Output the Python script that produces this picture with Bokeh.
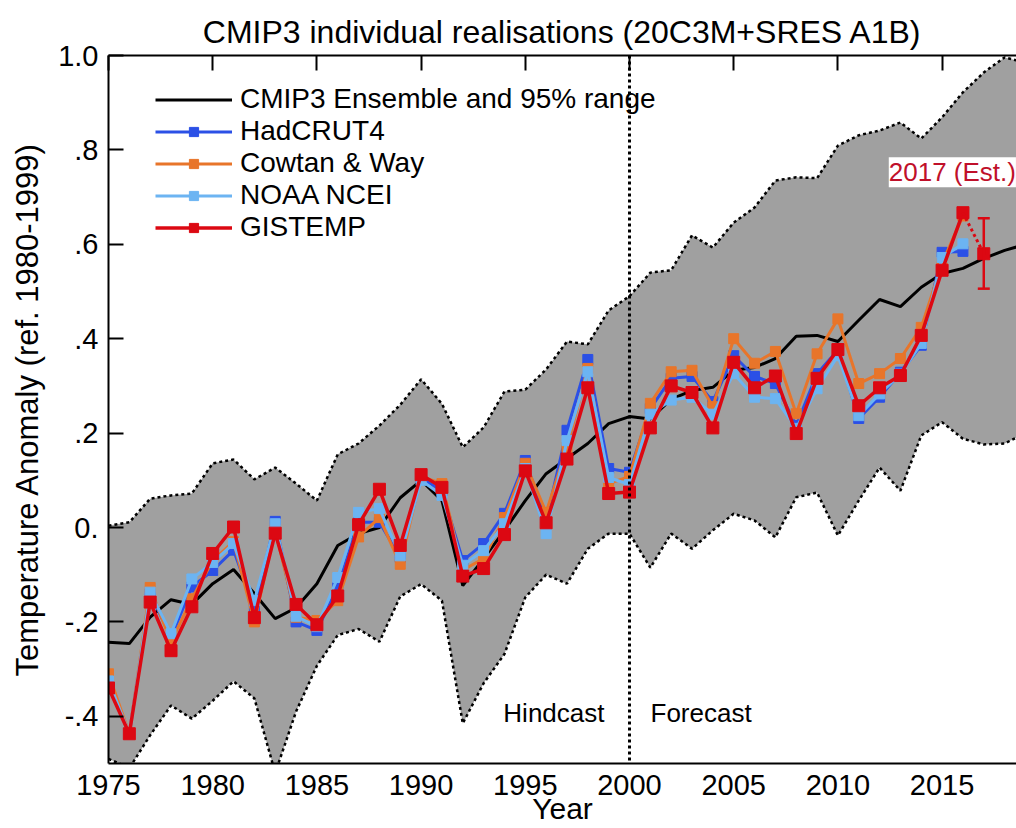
from bokeh.plotting import figure
from bokeh.models import (Range1d, LinearAxis, FixedTicker, CustomJSTickFormatter, Legend,
                          LegendItem, Label, Span, Whisker, ColumnDataSource, TeeHead)
from bokeh.embed import file_html
from bokeh.resources import INLINE

# ---------------- data ----------------
years_obs = list(range(1975, 2017))

hadcrut4 = [-0.330, -0.437, -0.140, -0.233, -0.126, -0.091, -0.048, -0.170, 0.013, -0.200,
            -0.218, -0.127, 0.011, 0.011, -0.063, 0.105, 0.078, -0.070, -0.034, 0.030,
            0.142, 0.015, 0.206, 0.356, 0.125, 0.117, 0.252, 0.316, 0.320, 0.267,
            0.364, 0.320, 0.305, 0.216, 0.326, 0.376, 0.231, 0.276, 0.329, 0.386,
            0.583, 0.585]

cowtan_way = [-0.310, -0.437, -0.127, -0.243, -0.151, -0.070, -0.030, -0.200, -0.005, -0.190,
              -0.197, -0.155, -0.020, 0.021, -0.078, 0.108, 0.093, -0.090, -0.066, 0.021,
              0.136, 0.032, 0.170, 0.337, 0.093, 0.108, 0.263, 0.330, 0.333, 0.256,
              0.400, 0.348, 0.373, 0.241, 0.368, 0.442, 0.305, 0.326, 0.358, 0.424,
              0.560, 0.660]

noaa_ncei = [-0.325, -0.437, -0.137, -0.225, -0.109, -0.074, -0.034, -0.155, 0.008, -0.188,
             -0.210, -0.106, 0.032, 0.040, -0.060, 0.100, 0.068, -0.080, -0.049, 0.008,
             0.125, -0.013, 0.184, 0.330, 0.106, 0.091, 0.240, 0.270, 0.276, 0.240,
             0.326, 0.276, 0.273, 0.210, 0.294, 0.364, 0.237, 0.283, 0.325, 0.390,
             0.572, 0.601]

gistemp = [-0.340, -0.437, -0.158, -0.261, -0.168, -0.055, 0.001, -0.191, -0.012, -0.163,
           -0.206, -0.145, 0.006, 0.081, -0.038, 0.112, 0.085, -0.103, -0.087, -0.015,
           0.120, 0.010, 0.145, 0.296, 0.072, 0.075, 0.211, 0.300, 0.286, 0.211,
           0.350, 0.296, 0.321, 0.199, 0.316, 0.377, 0.258, 0.296, 0.322, 0.407,
           0.545, 0.667]

est_year = 2017
est_value = 0.580
est_low = 0.506
est_high = 0.655

years_model = list(range(1975, 2020))

ens_mean = [-0.243, -0.246, -0.190, -0.153, -0.163, -0.119, -0.089, -0.140, -0.193, -0.170,
            -0.119, -0.038, -0.013, 0.000, 0.063, 0.100, 0.057, -0.123, -0.066, -0.006,
            0.057, 0.114, 0.146, 0.178, 0.220, 0.235, 0.230, 0.272, 0.290, 0.297,
            0.333, 0.339, 0.358, 0.405, 0.407, 0.394, 0.439, 0.483, 0.468, 0.509,
            0.538, 0.549, 0.570, 0.587, 0.600]

ens_upper = [0.004, 0.011, 0.061, 0.068, 0.072, 0.136, 0.144, 0.102, 0.127, 0.093,
             0.057, 0.155, 0.178, 0.216, 0.260, 0.314, 0.262, 0.170, 0.212, 0.288,
             0.292, 0.335, 0.394, 0.388, 0.460, 0.490, 0.540, 0.545, 0.619, 0.593,
             0.646, 0.678, 0.735, 0.742, 0.740, 0.809, 0.831, 0.841, 0.858, 0.824,
             0.869, 0.922, 0.964, 0.996, 0.985]

ens_lower = [-0.490, -0.510, -0.440, -0.377, -0.405, -0.367, -0.326, -0.362, -0.520, -0.390,
             -0.293, -0.228, -0.215, -0.242, -0.146, -0.120, -0.155, -0.415, -0.330, -0.268,
             -0.148, -0.100, -0.119, -0.045, -0.013, -0.013, -0.085, -0.013, -0.045, -0.006,
             0.029, 0.015, -0.021, 0.064, 0.074, -0.017, 0.057, 0.127, 0.078, 0.195,
             0.223, 0.188, 0.176, 0.178, 0.200]

divider_year = 2000
x_ticks = [1975, 1980, 1985, 1990, 1995, 2000, 2005, 2010, 2015]
y_ticks = [-0.4, -0.2, 0.0, 0.2, 0.4, 0.6, 0.8, 1.0]

title_text = "CMIP3 individual realisations (20C3M+SRES A1B)"
y_label = "Temperature Anomaly (ref. 1980-1999)"
x_label = "Year"

# ---------------- styling ----------------
FONT = "Liberation Sans"
W, H = 1016, 828
LEFT, TOP, BOTTOM = 108, 55, 65
PX_PER_YEAR = 20.84
x_start = 1975
x_end = x_start + (W - LEFT) / PX_PER_YEAR
y_start, y_end = -0.5, 1.0

BAND = "#a0a0a0"
C_HAD = "#2b50e6"
C_CW = "#e8752a"
C_NOAA = "#6cb4f2"
C_GIS = "#dc0812"
C_EST = "#c0102a"

p = figure(width=W, height=H, x_range=Range1d(x_start, x_end), y_range=Range1d(y_start, y_end),
           output_backend="svg", toolbar_location=None,
           min_border_left=LEFT, min_border_right=0, min_border_top=TOP, min_border_bottom=BOTTOM)
p.background_fill_color = "white"
p.border_fill_color = "white"
p.outline_line_color = None
p.grid.visible = False

p.title.text = title_text
p.title.align = "center"
p.title.text_font = FONT
p.title.text_font_size = "32px"
p.title.text_font_style = "normal"
p.title.text_color = "black"
p.title.standoff = 11

# bottom axis
xa = p.xaxis[0]
xa.ticker = FixedTicker(ticks=x_ticks)
xa.major_tick_line_color = None
xa.minor_tick_line_color = None
xa.axis_line_width = 2
xa.axis_line_color = "black"
xa.major_label_text_font = FONT
xa.major_label_text_font_size = "29px"
xa.major_label_text_color = "black"
xa.major_label_standoff = 5
xa.axis_label = x_label
xa.axis_label_text_font = FONT
xa.axis_label_text_font_size = "30px"
xa.axis_label_text_font_style = "normal"
xa.axis_label_text_color = "black"
xa.axis_label_standoff = -6

# left axis
ya = p.yaxis[0]
ya.ticker = FixedTicker(ticks=y_ticks)
ya.formatter = CustomJSTickFormatter(code="""
const v = Math.round(tick * 10) / 10;
if (v === 0) { return "0."; }
if (v === 1) { return "1.0"; }
return v.toFixed(1).replace("0.", ".");
""")
ya.major_tick_in = 15
ya.major_tick_out = 0
ya.major_tick_line_width = 2
ya.minor_tick_line_color = None
ya.axis_line_width = 2
ya.axis_line_color = "black"
ya.major_label_text_font = FONT
ya.major_label_text_font_size = "29px"
ya.major_label_text_color = "black"
ya.major_label_standoff = 10
ya.axis_label = y_label
ya.axis_label_text_font = FONT
ya.axis_label_text_font_size = "31px"
ya.axis_label_text_font_style = "normal"
ya.axis_label_text_color = "black"
ya.axis_label_standoff = 10

# top axis (ticks only, no labels)
top = LinearAxis(ticker=FixedTicker(ticks=x_ticks),
                 formatter=CustomJSTickFormatter(code="return '';"))
top.major_tick_in = 15
top.major_tick_out = 0
top.major_tick_line_width = 2
top.minor_tick_line_color = None
top.axis_line_width = 2
top.axis_line_color = "black"
top.major_label_standoff = 0
top.major_label_text_font_size = "4px"
p.add_layout(top, "above")

# ---------------- glyphs ----------------
p.varea(x=years_model, y1=ens_lower, y2=ens_upper, fill_color=BAND, fill_alpha=1.0)
p.line(years_model, ens_upper, line_color="black", line_width=2.5, line_dash="3 3")
p.line(years_model, ens_lower, line_color="black", line_width=2.5, line_dash="3 3")
r_ens = p.line(years_model, ens_mean, line_color="black", line_width=3)

p.add_layout(Span(location=divider_year, dimension="height", line_color="black",
                  line_width=3, line_dash="3 3"))

series = [
    ("HadCRUT4", hadcrut4, C_HAD, 3, 10),
    ("Cowtan & Way", cowtan_way, C_CW, 3, 10),
    ("NOAA NCEI", noaa_ncei, C_NOAA, 3, 10),
    ("GISTEMP", gistemp, C_GIS, 3.5, 12),
]
items = [LegendItem(label="CMIP3 Ensemble and 95% range", renderers=[r_ens])]
for name, vals, col, lw, ms in series:
    rl = p.line(years_obs, vals, line_color=col, line_width=lw)
    rs = p.scatter(years_obs, vals, marker="square", size=ms, fill_color=col, line_color=col)
    items.append(LegendItem(label=name, renderers=[rl, rs]))

# 2017 estimate
p.line([years_obs[-1], est_year], [gistemp[-1], est_value], line_color=C_GIS,
       line_width=3, line_dash="3 3")
est_src = ColumnDataSource(dict(x=[est_year], lo=[est_low], hi=[est_high]))
p.add_layout(Whisker(source=est_src, base="x", lower="lo", upper="hi", line_color=C_GIS,
                     line_width=2.5, level="overlay",
                     upper_head=TeeHead(size=12, line_color=C_GIS, line_width=2.5),
                     lower_head=TeeHead(size=12, line_color=C_GIS, line_width=2.5)))
p.scatter([est_year], [est_value], marker="square", size=12, fill_color=C_GIS, line_color=C_GIS)

p.add_layout(Label(x=est_year, y=est_high, x_offset=-95, y_offset=46, text="2017 (Est.)",
                   text_font=FONT, text_font_size="26px", text_color=C_EST,
                   text_align="left", text_baseline="middle",
                   background_fill_color="white", background_fill_alpha=1.0))

# hindcast / forecast
p.add_layout(Label(x=divider_year, y=-0.392, x_offset=-25, text="Hindcast", text_font=FONT,
                   text_font_size="26px", text_color="black", text_align="right",
                   text_baseline="middle"))
p.add_layout(Label(x=divider_year, y=-0.392, x_offset=21, text="Forecast", text_font=FONT,
                   text_font_size="26px", text_color="black", text_align="left",
                   text_baseline="middle"))

legend = Legend(items=items, location=(47, 520), orientation="vertical",
                label_text_font=FONT, label_text_font_size="28px", label_text_color="black",
                label_height=29, glyph_height=23, glyph_width=77, label_standoff=8,
                spacing=0, padding=0, margin=0, border_line_color=None,
                background_fill_alpha=0.0)
p.add_layout(legend)

open("out.html", "w").write(file_html(p, INLINE))
